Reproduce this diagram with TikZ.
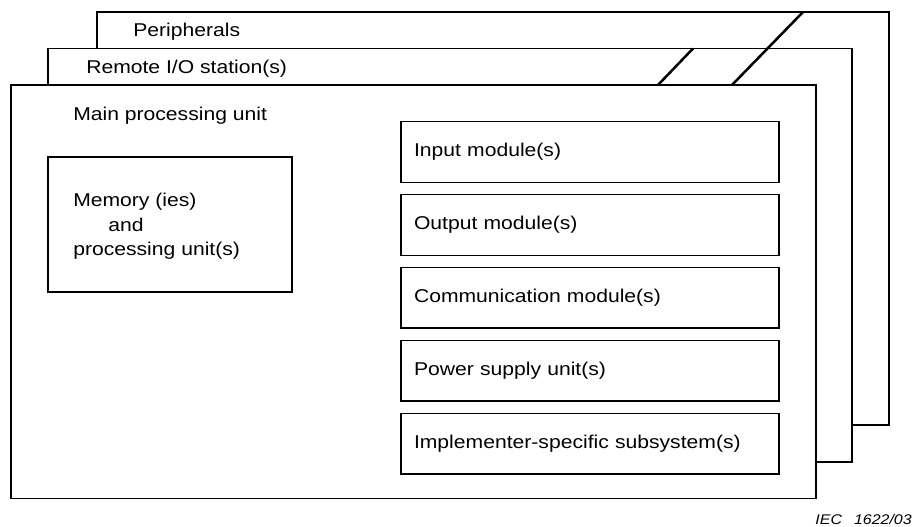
\documentclass[tikz,border=0pt]{standalone}
\usepackage{fontspec}
\setmainfont{Liberation Sans}[FakeStretch=1.14]
\tikzset{
  frame/.style={draw, line width=1.1pt, fill=white, inner sep=0pt},
  module/.style={draw, line width=1.1pt, rectangle, minimum height=45.5pt,
    text width=264pt, inner xsep=9.75pt, align=left,
    text height=9.5pt, text depth=2.3pt},
  label/.style={inner sep=0pt, anchor=base west},
  cut/.style={line width=1.9pt}
}
\begin{document}
\begin{tikzpicture}[x=0.75pt,y=-0.75pt,font=\fontsize{13.9}{16.5}\selectfont]
\useasboundingbox (0,0) rectangle (914,526);
% cadres
\node[frame, minimum width=594pt, minimum height=309.75pt] (periph) at (493,218.5) {};
\node[frame, minimum width=603pt, minimum height=310.1pt] (remote) at (450,255.25) {};
\node[frame, minimum width=603.75pt, minimum height=310.1pt] (main) at (413.5,291.75) {};
\node[label] (periphtxt) at (133,36) {Peripherals};
\node[label] (remotetxt) at (86,73.5) {Remote I/O station(s)};
\node[label] (maintxt) at (73,120) {Main processing unit};
% coupures
\coordinate (c1a) at (658,85);
\coordinate (c1b) at (693,48.5);
\coordinate (c2a) at (732,85);
\coordinate (c2b) at (803,12);
\draw [cut] (c1a) -- (c1b);
\draw [cut] (c2a) -- (c2b);
% memoire
\node[frame, minimum width=183pt, minimum height=101.25pt] (mem) at (170,224.5) {};
\node[label] (mem1) at (73,206.5) {Memory (ies)};
\node[label] (mem2) at (108,231) {and};
\node[label] (mem3) at (73,255.5) {processing unit(s)};
% modules
\node[module] (in) at (590,152) {Input module(s)};
\node[module] (out) at (590,224.9) {Output module(s)};
\node[module] (com) at (590,297.8) {Communication module(s)};
\node[module] (pow) at (590,370.7) {Power supply unit(s)};
\node[module] (spec) at (590,443.6) {Implementer-specific subsystem(s)};
% reference
\node[inner sep=0pt, anchor=base east, font=\fontsize{10.5}{12}\selectfont\itshape] (iec) at (912,524) {IEC\hspace{9pt}1622/03};
\end{tikzpicture}
\end{document}
